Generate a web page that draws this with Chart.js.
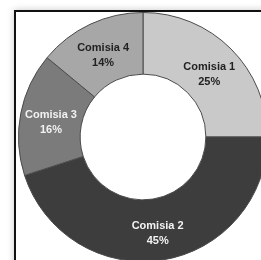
<!DOCTYPE html>
<html>
<head>
<meta charset="utf-8">
<script src="https://cdn.jsdelivr.net/npm/chart.js@4"></script>
<style>
    html, body { margin: 0; padding: 0; width: 261px; height: 260px; overflow: hidden; background: #ffffff; }
    #frame {
        position: absolute; left: 14px; top: 10px; width: 300px; height: 300px;
        border: 2px solid #111; background: #fff;
        box-shadow: 0 0 7px rgba(0, 0, 0, 0.22);
    }
    #wrap { position: absolute; left: 18px; top: 12px; width: 250px; height: 250px; }
</style>
</head>
<body>
<div id="frame"></div>
<div id="wrap"><canvas id="donutChart" width="250" height="250"></canvas></div>
<script>
// data
const categories = ['Comisia 1', 'Comisia 2', 'Comisia 3', 'Comisia 4'];
const shares = [25, 45, 16, 14];
const sliceColors = ['#c9c9c9', '#3d3d3d', '#7b7b7b', '#a7a7a7'];
const labelColors = ['#222222', '#f2f2f2', '#f2f2f2', '#222222'];

// write the name and percentage in the middle of each slice
const sliceLabels = {
    id: 'sliceLabels',
    afterDatasetsDraw(chart) {
        const ctx = chart.ctx;
        const arcs = chart.getDatasetMeta(0).data;
        ctx.save();
        ctx.font = 'bold 11px "Liberation Sans", Arial, sans-serif';
        ctx.textAlign = 'center';
        ctx.textBaseline = 'middle';
        arcs.forEach((arc, i) => {
            const p = arc.tooltipPosition();
            ctx.fillStyle = labelColors[i];
            ctx.fillText(categories[i], p.x, p.y - 4);
            ctx.fillText(shares[i] + '%', p.x, p.y + 11);
        });
        ctx.restore();
    }
};

new Chart(document.getElementById('donutChart'), {
    type: 'doughnut',
    data: {
        labels: categories,
        datasets: [{
            data: shares,
            backgroundColor: sliceColors,
            borderColor: '#4a4a4a',
            borderWidth: 1
        }]
    },
    options: {
        responsive: false,
        animation: false,
        cutout: '50.5%',
        layout: { padding: 0 },
        plugins: {
            legend: { display: false },
            tooltip: { enabled: false }
        }
    },
    plugins: [sliceLabels]
});
</script>
</body>
</html>
